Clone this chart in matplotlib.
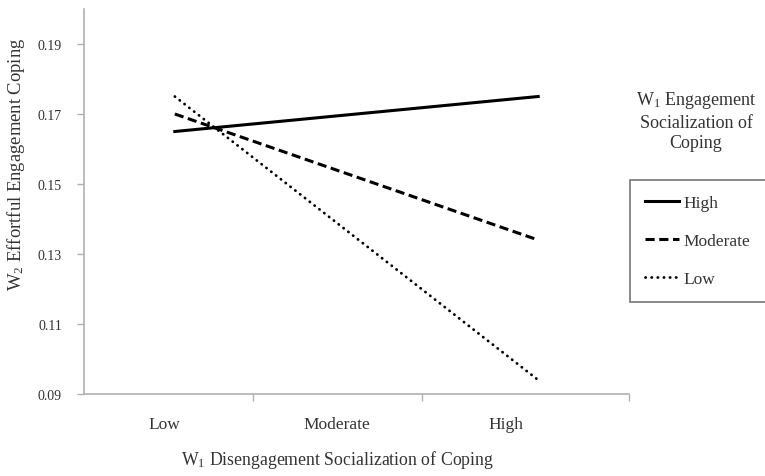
import numpy as np
import matplotlib
matplotlib.use('Agg')
import matplotlib.pyplot as plt
from matplotlib.ticker import FixedLocator

# Data
categories = ['Low', 'Moderate', 'High']
high_vals = [0.165, 0.170, 0.175]
moderate_vals = [0.170, 0.152, 0.134]
low_vals = [0.175, 0.1345, 0.094]
y_ticks = [0.09, 0.11, 0.13, 0.15, 0.17, 0.19]

plt.rcParams['font.family'] = ['Liberation Serif', 'DejaVu Serif']
plt.rcParams['mathtext.fontset'] = 'custom'
plt.rcParams['mathtext.rm'] = 'Liberation Serif'
plt.rcParams['mathtext.it'] = 'Liberation Serif:italic'

text_color = '#333333'
axis_color = '#b0b0b0'

fig = plt.figure(figsize=(7.65, 4.77), dpi=100)
ax = fig.add_axes([84 / 765, 1 - 395 / 477, 545 / 765, 385 / 477])

x = np.arange(len(categories))
ax.plot(x, high_vals, color='black', linewidth=2.2, linestyle='-', label='High')
ax.plot(x, moderate_vals, color='black', linewidth=2.2, linestyle=(0, (3.0, 1.5)),
        label='Moderate')
ax.plot(x, low_vals, color='black', linewidth=2.0, linestyle=(0, (0.1, 2.1)),
        dash_capstyle='round', label='Low')

ax.set_xlim(-0.5, 2.5)
ax.set_ylim(0.09, 0.20)

# y axis
ax.set_yticks(y_ticks)
ax.set_yticklabels(['%.2f' % v for v in y_ticks])
ax.tick_params(axis='y', direction='out', length=5, width=1, color=axis_color,
               labelsize=10, labelcolor=text_color, pad=11)

# x axis: category labels with separator ticks
label_pos = [-0.06, 0.89, 1.82]
ax.xaxis.set_major_locator(FixedLocator(label_pos))
ax.set_xticklabels(categories)
ax.xaxis.set_minor_locator(FixedLocator([0.43, 1.36, 2.5]))
ax.tick_params(axis='x', which='major', length=0, labelsize=12.5,
               labelcolor=text_color, pad=16)
ax.tick_params(axis='x', which='minor', direction='out', length=5, width=1,
               color=axis_color)

for side in ['top', 'right']:
    ax.spines[side].set_visible(False)
for side in ['left', 'bottom']:
    ax.spines[side].set_color(axis_color)
    ax.spines[side].set_linewidth(1.2)

ax.set_ylabel(r'W$_2$ Effortful Engagement Coping', fontsize=13.4, color=text_color)
ax.yaxis.set_label_coords(-0.105, 0.6)
ax.set_xlabel(r'W$_1$ Disengagement Socialization of Coping', fontsize=12.8,
              color=text_color)
ax.xaxis.set_label_coords(0.466, -0.14)
ax.xaxis.label.set_va('top')

# legend title and box
fig.text(696 / 765, 1 - 121 / 477, 'W$_1$ Engagement\nSocialization of\nCoping',
         ha='center', va='center', fontsize=13, color=text_color,
         linespacing=1.3)
leg = fig.legend(loc='upper left',
                 bbox_to_anchor=(630 / 765, 1 - 298 / 477, 140 / 765, 117 / 477),
                 mode='expand', fontsize=12.5, handlelength=2.0,
                 handletextpad=0.25, labelspacing=1.26, borderaxespad=0,
                 borderpad=0.85, fancybox=False)
leg.get_frame().set_edgecolor('#555555')
leg.get_frame().set_linewidth(1.2)
for t in leg.get_texts():
    t.set_color(text_color)

fig.savefig('out.png', dpi=100)
